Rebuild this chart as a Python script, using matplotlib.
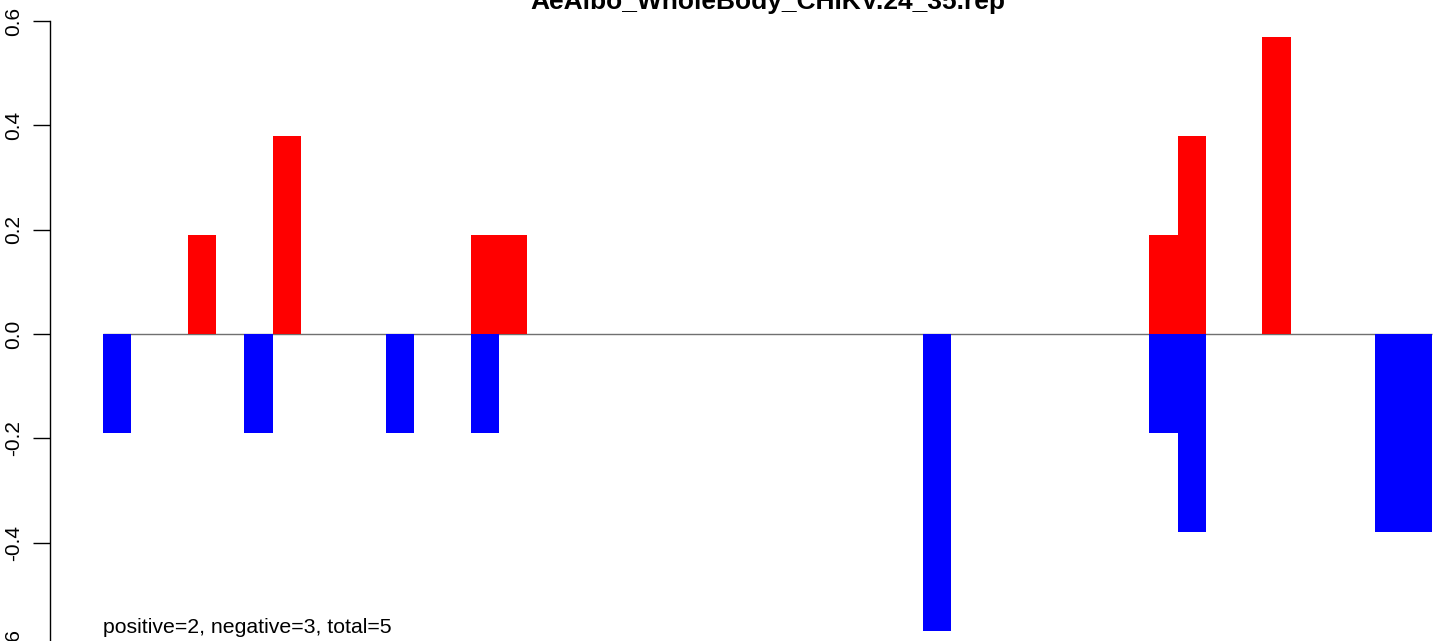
import matplotlib
matplotlib.use('Agg')
import matplotlib.pyplot as plt

plt.rcParams['font.family'] = ['Liberation Sans', 'DejaVu Sans']

title = 'AeAlbo_WholeBody_CHIKV.24_35.rep'
n_bins = 47

# bin index -> value (red = positive, blue = negative)
pos_idx = [3, 6, 13, 14, 37, 38, 41]
pos_val = [0.19, 0.38, 0.19, 0.19, 0.19, 0.38, 0.57]
neg_idx = [0, 5, 10, 13, 29, 37, 38, 45, 46]
neg_val = [-0.19, -0.19, -0.19, -0.19, -0.57, -0.19, -0.38, -0.38, -0.38]
yticks = [-0.6, -0.4, -0.2, 0.0, 0.2, 0.4, 0.6]
note = 'positive=2, negative=3, total=5'

W, H = 1433, 641
fig = plt.figure(figsize=(W / 100, H / 100), dpi=100)

# plot region runs a bit past the figure edges (cropped like the original)
left, right = 50, 1485
top, bottom = 21, 647
ax = fig.add_axes([left / W, 1 - bottom / H, (right - left) / W, (bottom - top) / H])

ax.set_xlim(-1.874, n_bins + 1.874)
ax.set_ylim(-0.6, 0.6)

ax.hlines(0, 0, n_bins, color='#707070', lw=1, zorder=1)
ax.bar(pos_idx, pos_val, width=1, align='edge', color='red', lw=0, zorder=2)
ax.bar(neg_idx, neg_val, width=1, align='edge', color='blue', lw=0, zorder=2)

for s in ['top', 'right', 'bottom']:
    ax.spines[s].set_visible(False)
ax.spines['left'].set_linewidth(1)
ax.set_xticks([])
ax.set_yticks(yticks)
ax.set_yticklabels(['%.1f' % v for v in yticks], rotation=90, va='center')
ax.tick_params(axis='y', length=12, width=1, pad=7, labelsize=15)

ax.text(0, -0.574, note, fontsize=15.3, ha='left', va='baseline')

fig.text(767.5 / W, 1 - 9 / H, title, fontsize=19, fontweight='bold',
         ha='center', va='baseline')

fig.savefig('out.png', dpi=100)
